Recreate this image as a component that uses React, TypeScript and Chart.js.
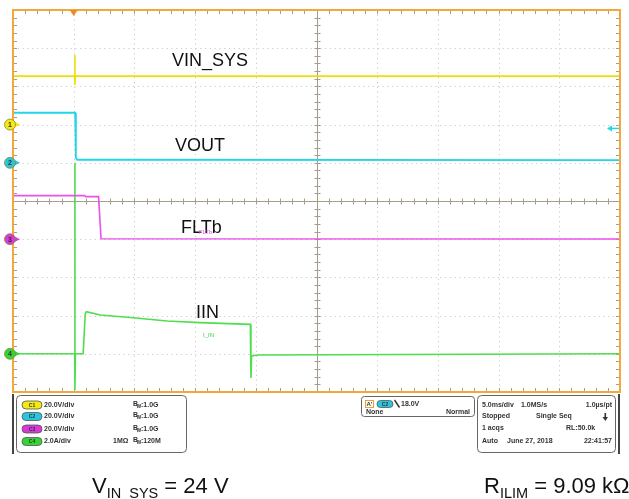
import React, { useEffect, useRef } from "react";
import { Chart, registerables } from "chart.js";

Chart.register(...registerables);

// ---- Horizontal (time) axis: ms relative to trigger, 5 ms/div, 10 divisions
const X_MIN = -5;
const X_MAX = 45;
const X_DIV = 5;
// ---- Vertical axis: divisions, 10 divisions
const Y_MIN = -5;
const Y_MAX = 5;

// ---- Channels
const channelIds = ["C1", "C2", "C3", "C4"];
const channelNames = ["VIN_SYS", "VOUT", "FLTb", "IIN"];
const channelScale = [20, 20, 20, 2]; // units per division
const channelOffset = [2, 1, -1, -4]; // ground marker position (div)
const channelScaleText = ["20.0V/div", "20.0V/div", "20.0V/div", "2.0A/div"];
const channelBw = ["1.0G", "1.0G", "1.0G", "120M"];
const channelImpedance = ["", "", "", "1MΩ"];

// ---- Traces (time in ms, value in V or A)
const vinT = [-5, 0.08, 0.1, 0.1, 0.12, 0.2, 45];
const vinV = [25.4, 25.4, 36.4, 20.7, 25.4, 25.4, 25.4];

const voutT = [-5, 0.12, 0.18, 0.3, 0.6, 45];
const voutV = [26.2, 26.2, 2.6, 1.6, 1.6, 1.4];

const fltT = [-5, 0.9, 1.0, 2.05, 2.25, 45];
const fltV = [22.8, 22.8, 22.3, 22.3, 0.2, 0.1];

const iinT = [-5, 0.08, 0.1, 0.1, 0.14, 0.78, 0.95, 1.05, 2.2, 4.9, 7.7, 10.4, 14.55, 14.6, 14.65, 14.75, 15.2, 45];
const iinV = [0, 0, 10.0, -1.9, 0, 0, 2.1, 2.2, 2.03, 1.89, 1.72, 1.63, 1.54, -1.27, -0.15, -0.1, -0.06, 0];

// ---- Trigger
const triggerTime = 0;
const triggerLevel = 18.0; // V on C2
const triggerText = "18.0V";

// ---- Acquisition readout
const acqRow1 = ["5.0ms/div", "1.0MS/s", "1.0µs/pt"];
const acqRow2 = ["Stopped", "Single Seq"];
const acqRow3 = ["1 acqs", "RL:50.0k"];
const acqRow4 = ["Auto", "June 27, 2018", "22:41:57"];

// ---- Colours
const channelColors = ["#ece000", "#22d6ea", "#ea50ea", "#4ede4e"];
const markerColors = ["#f2ea10", "#2ac6dc", "#d838d8", "#36d236"];

const FONT = "'Liberation Sans', Arial, sans-serif";

function toDiv(values: number[], ch: number) {
  return values.map((v) => v / channelScale[ch] + channelOffset[ch]);
}

function roundRect(ctx: CanvasRenderingContext2D, x: number, y: number, w: number, h: number, r: number) {
  ctx.beginPath();
  ctx.moveTo(x + r, y);
  ctx.lineTo(x + w - r, y);
  ctx.quadraticCurveTo(x + w, y, x + w, y + r);
  ctx.lineTo(x + w, y + h - r);
  ctx.quadraticCurveTo(x + w, y + h, x + w - r, y + h);
  ctx.lineTo(x + r, y + h);
  ctx.quadraticCurveTo(x, y + h, x, y + h - r);
  ctx.lineTo(x, y + r);
  ctx.quadraticCurveTo(x, y, x + r, y);
  ctx.closePath();
}

function pill(ctx: CanvasRenderingContext2D, x: number, y: number, w: number, h: number, color: string, text: string) {
  ctx.save();
  roundRect(ctx, x, y - h / 2, w, h, h / 2);
  ctx.fillStyle = color;
  ctx.fill();
  ctx.strokeStyle = "#555";
  ctx.lineWidth = 0.8;
  ctx.stroke();
  ctx.fillStyle = "#333";
  ctx.font = `bold 5px ${FONT}`;
  ctx.textAlign = "center";
  ctx.textBaseline = "middle";
  ctx.fillText(text, x + w / 2, y + 0.5);
  ctx.restore();
}

const scopePlugin = {
  id: "scope",
  beforeDatasetsDraw(chart: any) {
    const { ctx, chartArea: a, scales } = chart;
    const xs = scales.x;
    const ys = scales.y;
    ctx.save();
    ctx.fillStyle = "#ffffff";
    ctx.fillRect(0, 0, chart.width, chart.height);

    // dotted graticule
    ctx.strokeStyle = "#cccccc";
    ctx.lineWidth = 1;
    ctx.setLineDash([1.2, 3.6]);
    for (let t = X_MIN + X_DIV; t < X_MAX; t += X_DIV) {
      if (t === (X_MIN + X_MAX) / 2) continue;
      const px = Math.round(xs.getPixelForValue(t)) + 0.5;
      ctx.beginPath();
      ctx.moveTo(px, a.top);
      ctx.lineTo(px, a.bottom);
      ctx.stroke();
    }
    for (let d = Y_MIN + 1; d < Y_MAX; d += 1) {
      if (d === 0) continue;
      const py = Math.round(ys.getPixelForValue(d)) + 0.5;
      ctx.beginPath();
      ctx.moveTo(a.left, py);
      ctx.lineTo(a.right, py);
      ctx.stroke();
    }
    ctx.setLineDash([]);

    // centre lines with minor ticks
    const cx = Math.round(xs.getPixelForValue((X_MIN + X_MAX) / 2)) + 0.5;
    const cy = Math.round(ys.getPixelForValue(0)) + 0.5;
    ctx.strokeStyle = "#a69e8c";
    ctx.lineWidth = 1;
    ctx.beginPath();
    ctx.moveTo(cx, a.top);
    ctx.lineTo(cx, a.bottom);
    ctx.moveTo(a.left, cy);
    ctx.lineTo(a.right, cy);
    ctx.stroke();
    ctx.beginPath();
    for (let t = X_MIN; t <= X_MAX + 1e-9; t += X_DIV / 5) {
      const px = Math.round(xs.getPixelForValue(t)) + 0.5;
      ctx.moveTo(px, cy - 3);
      ctx.lineTo(px, cy + 3);
      ctx.moveTo(px, a.top);
      ctx.lineTo(px, a.top + 4);
      ctx.moveTo(px, a.bottom);
      ctx.lineTo(px, a.bottom - 4);
    }
    for (let d = Y_MIN; d <= Y_MAX + 1e-9; d += 0.2) {
      const py = Math.round(ys.getPixelForValue(d)) + 0.5;
      ctx.moveTo(cx - 3, py);
      ctx.lineTo(cx + 3, py);
      ctx.moveTo(a.left, py);
      ctx.lineTo(a.left + 4, py);
      ctx.moveTo(a.right, py);
      ctx.lineTo(a.right - 4, py);
    }
    ctx.stroke();
    ctx.restore();
  },
  afterDatasetsDraw(chart: any) {
    const { ctx, chartArea: a, scales } = chart;
    const xs = scales.x;
    const ys = scales.y;
    ctx.save();

    // orange frame
    ctx.strokeStyle = "#f2a83a";
    ctx.lineWidth = 2;
    ctx.strokeRect(a.left, a.top, a.right - a.left, a.bottom - a.top);

    // trigger position marker
    const tx = xs.getPixelForValue(triggerTime);
    ctx.fillStyle = "#f08a1c";
    ctx.beginPath();
    ctx.moveTo(tx - 4, a.top);
    ctx.lineTo(tx + 4, a.top);
    ctx.lineTo(tx, a.top + 6);
    ctx.closePath();
    ctx.fill();

    // trigger level arrow on right (C2)
    const ty = ys.getPixelForValue(triggerLevel / channelScale[1] + channelOffset[1]);
    ctx.strokeStyle = channelColors[1];
    ctx.fillStyle = channelColors[1];
    ctx.lineWidth = 1.5;
    ctx.beginPath();
    ctx.moveTo(a.right - 1, ty);
    ctx.lineTo(a.right - 9, ty);
    ctx.stroke();
    ctx.beginPath();
    ctx.moveTo(a.right - 13, ty);
    ctx.lineTo(a.right - 8, ty - 3);
    ctx.lineTo(a.right - 8, ty + 3);
    ctx.closePath();
    ctx.fill();

    // channel ground markers
    for (let i = 0; i < 4; i++) {
      const my = ys.getPixelForValue(channelOffset[i]);
      const mx = a.left - 3;
      ctx.fillStyle = markerColors[i];
      ctx.beginPath();
      ctx.moveTo(mx + 5, my - 2.5);
      ctx.lineTo(mx + 10, my);
      ctx.lineTo(mx + 5, my + 2.5);
      ctx.closePath();
      ctx.fill();
      ctx.beginPath();
      ctx.arc(mx, my, 5.5, 0, Math.PI * 2);
      ctx.fill();
      ctx.strokeStyle = "#8a8a40";
      ctx.lineWidth = 0.8;
      ctx.stroke();
      ctx.fillStyle = "#333";
      ctx.font = `bold 7px ${FONT}`;
      ctx.textAlign = "center";
      ctx.textBaseline = "middle";
      ctx.fillText(String(i + 1), mx, my + 0.5);
    }

    // trace labels (black)
    const labels: [string, number, number][] = [
      [channelNames[0], 8.1, 3.66],
      [channelNames[1], 8.34, 1.43],
      [channelNames[2], 8.84, -0.71],
      [channelNames[3], 10.07, -2.93],
    ];
    ctx.fillStyle = "#111";
    ctx.font = `18px ${FONT}`;
    ctx.textAlign = "left";
    ctx.textBaseline = "middle";
    for (const [t, x, y] of labels) {
      ctx.fillText(t, xs.getPixelForValue(x), ys.getPixelForValue(y));
    }
    // scope's own tiny channel labels
    ctx.font = `6px ${FONT}`;
    ctx.fillStyle = channelColors[2];
    ctx.fillText("FLTb", xs.getPixelForValue(10.3), ys.getPixelForValue(-0.81));
    ctx.fillStyle = "#3ccc3c";
    ctx.fillText("I_IN", xs.getPixelForValue(10.65), ys.getPixelForValue(-3.51));

    // ---- readout panel
    const pTop = a.bottom + 2;
    ctx.fillStyle = "#444";
    ctx.fillRect(a.left - 1, pTop, 2, 60);
    ctx.fillRect(a.right - 2, pTop, 2, 60);

    ctx.strokeStyle = "#666";
    ctx.lineWidth = 1;
    ctx.fillStyle = "#fff";
    roundRect(ctx, 16.5, 395.5, 170, 57, 4);
    ctx.fill();
    ctx.stroke();
    const rowsY = [405, 416.5, 429, 441.5];
    for (let i = 0; i < 4; i++) {
      pill(ctx, 22, rowsY[i], 20, 8, markerColors[i], channelIds[i]);
      ctx.fillStyle = "#333";
      ctx.font = `bold 7px ${FONT}`;
      ctx.textAlign = "left";
      ctx.textBaseline = "middle";
      ctx.fillText(channelScaleText[i], 44, rowsY[i]);
      // B_W
      ctx.fillText("B", 133, rowsY[i] - 1);
      ctx.font = `bold 5px ${FONT}`;
      ctx.fillText("W", 136.5, rowsY[i] + 1.5);
      ctx.font = `bold 7px ${FONT}`;
      ctx.fillText(":" + channelBw[i], 141, rowsY[i]);
      if (channelImpedance[i]) {
        ctx.fillText(channelImpedance[i], 113, rowsY[i]);
      }
    }

    // trigger box
    ctx.strokeStyle = "#666";
    ctx.fillStyle = "#fff";
    roundRect(ctx, 361.5, 396.5, 113, 20, 3);
    ctx.fill();
    ctx.stroke();
    ctx.strokeStyle = "#f0a030";
    ctx.strokeRect(365.5, 400.5, 8, 7);
    ctx.fillStyle = "#333";
    ctx.font = `bold 6px ${FONT}`;
    ctx.textAlign = "left";
    ctx.textBaseline = "middle";
    ctx.fillText("A'", 366.5, 404.5);
    pill(ctx, 377, 404, 16, 7, markerColors[1], channelIds[1]);
    ctx.strokeStyle = "#333";
    ctx.lineWidth = 1.4;
    ctx.beginPath();
    ctx.moveTo(394.5, 400);
    ctx.lineTo(399.5, 407.5);
    ctx.stroke();
    ctx.fillStyle = "#333";
    ctx.font = `bold 7px ${FONT}`;
    ctx.textAlign = "left";
    ctx.fillText(triggerText, 401, 404);
    ctx.fillText("None", 366, 412.5);
    ctx.textAlign = "right";
    ctx.fillText("Normal", 470, 412.5);

    // acquisition box
    ctx.strokeStyle = "#666";
    ctx.lineWidth = 1;
    ctx.fillStyle = "#fff";
    roundRect(ctx, 477.5, 395.5, 138, 57, 4);
    ctx.fill();
    ctx.stroke();
    ctx.fillStyle = "#333";
    ctx.font = `bold 7px ${FONT}`;
    ctx.textAlign = "left";
    ctx.fillText(acqRow1[0], 482, 405);
    ctx.fillText(acqRow1[1], 521, 405);
    ctx.textAlign = "right";
    ctx.fillText(acqRow1[2], 612, 405);
    ctx.textAlign = "left";
    ctx.fillText(acqRow2[0], 482, 416.5);
    ctx.fillText(acqRow2[1], 536, 416.5);
    ctx.fillText(acqRow3[0], 482, 428.5);
    ctx.fillText(acqRow3[1], 566, 428.5);
    ctx.fillText(acqRow4[0], 482, 441.5);
    ctx.fillText(acqRow4[1], 507, 441.5);
    ctx.textAlign = "right";
    ctx.fillText(acqRow4[2], 612, 441.5);
    // single-seq arrow
    ctx.fillRect(604.5, 413, 1.6, 5);
    ctx.beginPath();
    ctx.moveTo(602.5, 417);
    ctx.lineTo(608, 417);
    ctx.lineTo(605.3, 421);
    ctx.closePath();
    ctx.fill();

    // ---- conditions below the screen
    ctx.fillStyle = "#111";
    ctx.textAlign = "left";
    ctx.textBaseline = "alphabetic";
    let x = 92;
    ctx.font = `22px ${FONT}`;
    ctx.fillText("V", x, 493);
    x += ctx.measureText("V").width;
    ctx.font = `14.5px ${FONT}`;
    ctx.fillText("IN_SYS", x, 498);
    x += ctx.measureText("IN_SYS").width;
    ctx.font = `22px ${FONT}`;
    ctx.fillText(" = 24 V", x, 493);

    x = 484;
    ctx.fillText("R", x, 493);
    x += ctx.measureText("R").width;
    ctx.font = `14.5px ${FONT}`;
    ctx.fillText("ILIM", x, 498);
    x += ctx.measureText("ILIM").width;
    ctx.font = `22px ${FONT}`;
    ctx.fillText(" = 9.09 kΩ", x, 493);

    ctx.restore();
  },
};

export default function App() {
  const canvasRef = useRef<HTMLCanvasElement | null>(null);

  useEffect(() => {
    document.body.style.margin = "0";
    const canvas = canvasRef.current;
    if (!canvas) return;
    const mk = (t: number[], v: number[], ch: number) => {
      const d = toDiv(v, ch);
      return t.map((x, i) => ({ x, y: d[i] }));
    };
    const chart = new Chart(canvas, {
      type: "line",
      data: {
        datasets: [
          { label: channelNames[0], data: mk(vinT, vinV, 0), borderColor: channelColors[0], borderWidth: 1.6 },
          { label: channelNames[1], data: mk(voutT, voutV, 1), borderColor: channelColors[1], borderWidth: 1.8 },
          { label: channelNames[2], data: mk(fltT, fltV, 2), borderColor: channelColors[2], borderWidth: 1.6 },
          { label: channelNames[3], data: mk(iinT, iinV, 3), borderColor: channelColors[3], borderWidth: 1.6 },
        ],
      },
      options: {
        responsive: false,
        animation: false,
        devicePixelRatio: 1,
        events: [],
        layout: { padding: { left: 13, top: 10, right: 9, bottom: 107 } },
        plugins: {
          legend: { display: false },
          tooltip: { enabled: false },
          title: { display: false },
        },
        elements: { point: { radius: 0 }, line: { tension: 0 } },
        scales: {
          x: { type: "linear", min: X_MIN, max: X_MAX, display: false },
          y: { type: "linear", min: Y_MIN, max: Y_MAX, display: false },
        },
      },
      plugins: [scopePlugin],
    });
    return () => chart.destroy();
  }, []);

  return (
    <div style={{ width: 629, height: 499 }}>
      <canvas ref={canvasRef} width={629} height={499} style={{ display: "block" }} />
    </div>
  );
}
